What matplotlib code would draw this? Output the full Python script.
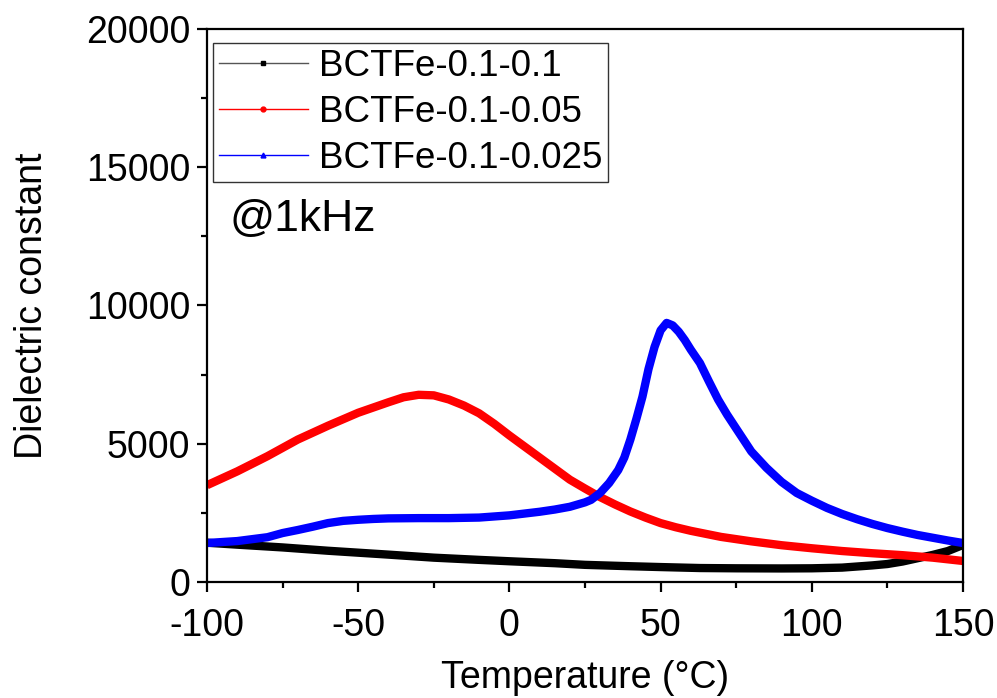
import matplotlib
matplotlib.use("Agg")
import matplotlib.pyplot as plt
from matplotlib.lines import Line2D
from matplotlib.ticker import MultipleLocator

plt.rcParams['font.family'] = ['Liberation Sans', 'DejaVu Sans']
plt.rcParams['axes.unicode_minus'] = False

# BCTFe-0.1-0.1 (black)
t_black = [-100, -90, -75, -60, -50, -40, -25, -10, 0, 15, 25, 40, 50, 63, 75, 90, 100,
           110, 115, 120, 125, 130, 135, 140, 145, 150]
eps_black = [1420, 1350, 1250, 1130, 1060, 990, 880, 800, 750, 680, 620, 570, 540, 505, 495,
             490, 495, 520, 560, 600, 650, 740, 860, 980, 1120, 1340]

# BCTFe-0.1-0.05 (red)
t_red = [-100, -90, -80, -75, -70, -60, -50, -40, -35, -30, -25, -20, -15, -10, -5, 0, 5, 10,
         15, 20, 25, 30, 35, 40, 45, 50, 55, 60, 70, 80, 90, 100, 110, 120, 130, 140, 150]
eps_red = [3500, 4000, 4550, 4850, 5150, 5650, 6120, 6500, 6680, 6770, 6750, 6600, 6380, 6100,
           5720, 5300, 4900, 4500, 4100, 3700, 3380, 3070, 2800, 2550, 2330, 2130, 1980, 1850,
           1630, 1470, 1330, 1220, 1120, 1040, 970, 880, 760]

# BCTFe-0.1-0.025 (blue)
t_blue = [-100, -90, -80, -75, -70, -65, -60, -55, -50, -45, -40, -30, -20, -10, 0, 10, 15,
          20, 25, 27, 30, 33, 36, 38, 40, 42, 44, 46, 48, 50, 52, 54, 56, 58, 60, 63, 66, 69,
          72, 75, 80, 85, 90, 95, 100, 105, 110, 115, 120, 125, 130, 135, 140, 145, 150]
eps_blue = [1410, 1480, 1620, 1770, 1880, 2000, 2130, 2210, 2250, 2280, 2300, 2310, 2310, 2330,
            2410, 2540, 2620, 2720, 2880, 2970, 3220, 3580, 4050, 4500, 5150, 5900, 6700, 7700,
            8500, 9100, 9370, 9280, 9050, 8750, 8400, 7920, 7250, 6600, 6050, 5550, 4720, 4130,
            3620, 3220, 2940, 2680, 2460, 2270, 2100, 1950, 1820, 1700, 1600, 1500, 1410]

fig = plt.figure(figsize=(9.97, 6.98), dpi=100)
ax = fig.add_axes([0.2076, 0.1662, 0.7583, 0.7923])

ax.plot(t_black, eps_black, color='black', lw=6, solid_capstyle='butt')
ax.plot(t_red, eps_red, color='red', lw=6, solid_capstyle='butt')
ax.plot(t_blue, eps_blue, color='blue', lw=6, solid_capstyle='butt')

ax.set_xlim(-100, 150)
ax.set_ylim(0, 20000)
ax.xaxis.set_major_locator(MultipleLocator(50))
ax.xaxis.set_minor_locator(MultipleLocator(25))
ax.yaxis.set_major_locator(MultipleLocator(5000))
ax.yaxis.set_minor_locator(MultipleLocator(2500))

for s in ax.spines.values():
    s.set_linewidth(1.6)
ax.tick_params(which='major', direction='out', length=7, width=1.6, labelsize=27)
ax.tick_params(which='minor', direction='out', length=4.5, width=1.6)
ax.tick_params(axis='x', which='major', pad=12)
ax.tick_params(axis='y', which='major', pad=5)
ax.tick_params(which='both', top=False, right=False)

ax.set_xlabel('Temperature (\u00b0C)', fontsize=27, labelpad=11)
ax.set_ylabel('Dielectric constant', fontsize=27, labelpad=26)

handles = [
    Line2D([], [], color='#555555', lw=1, marker='s', markersize=3.5, markerfacecolor='black',
           markeredgecolor='black'),
    Line2D([], [], color='red', lw=1, marker='o', markersize=3.5),
    Line2D([], [], color='blue', lw=1, marker='^', markersize=3.5),
]
labels = ['BCTFe-0.1-0.1', 'BCTFe-0.1-0.05', 'BCTFe-0.1-0.025']
leg = ax.legend(handles, labels, loc='upper left', bbox_to_anchor=(0.008, 0.975),
                borderaxespad=0, fontsize=26.5, frameon=True, fancybox=False,
                handlelength=2.4, handletextpad=0.3, labelspacing=0.3, borderpad=0.17)
leg.get_frame().set_edgecolor('black')
leg.get_frame().set_linewidth(1.0)

ax.text(0.03, 0.635, '@1kHz', transform=ax.transAxes, fontsize=32)

fig.savefig('out.png', dpi=100)
